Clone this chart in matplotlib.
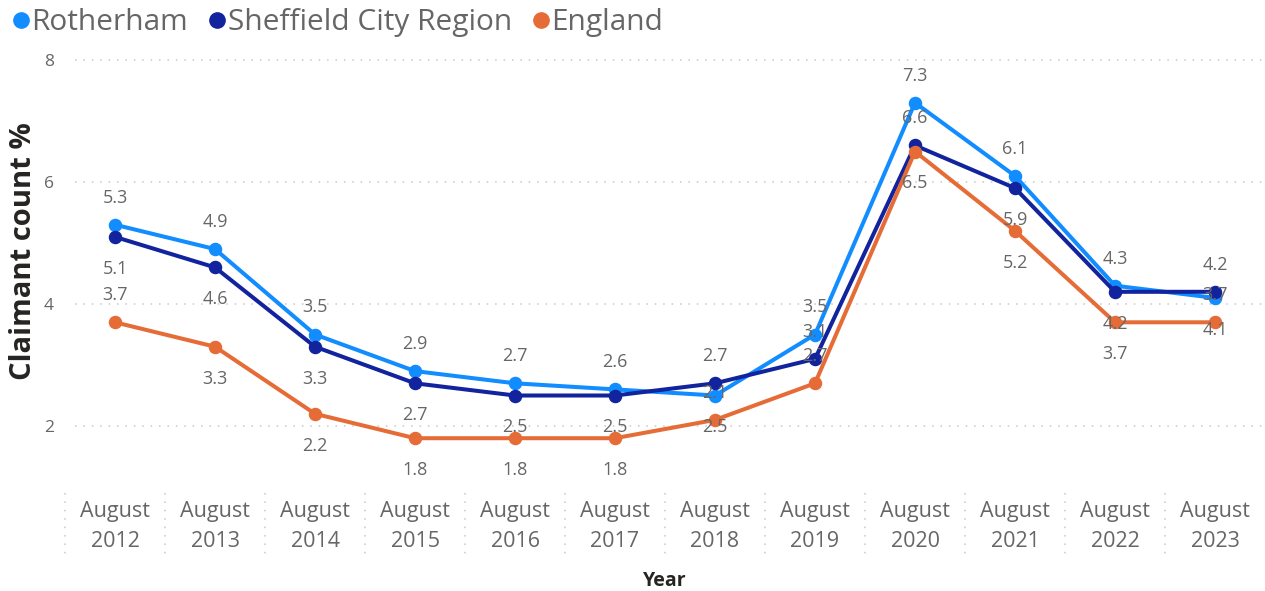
import matplotlib
matplotlib.use("Agg")
import matplotlib.pyplot as plt
from matplotlib.lines import Line2D
from matplotlib.transforms import blended_transform_factory

plt.rcParams["font.family"] = ["Open Sans", "DejaVu Sans"]

# ── Data ──
years = ["August\n2012", "August\n2013", "August\n2014", "August\n2015",
         "August\n2016", "August\n2017", "August\n2018", "August\n2019",
         "August\n2020", "August\n2021", "August\n2022", "August\n2023"]
rotherham = [5.3, 4.9, 3.5, 2.9, 2.7, 2.6, 2.5, 3.5, 7.3, 6.1, 4.3, 4.1]
sheffield = [5.1, 4.6, 3.3, 2.7, 2.5, 2.5, 2.7, 3.1, 6.6, 5.9, 4.2, 4.2]
england = [3.7, 3.3, 2.2, 1.8, 1.8, 1.8, 2.1, 2.7, 6.5, 5.2, 3.7, 3.7]

# label placement per point: a = above, b = below (as in the original)
rot_pos = "aaaaaabaaaab"
shf_pos = "bbbbbbaaabba"
eng_pos = "abbbbbaabbba"

series = [
    ("Rotherham", rotherham, rot_pos, "#118DFF"),
    ("Sheffield City Region", sheffield, shf_pos, "#12239E"),
    ("England", england, eng_pos, "#E66C37"),
]

GREY = "#666666"
W, H = 1265, 591
fig = plt.figure(figsize=(W / 100, H / 100), dpi=100)
fig.patch.set_facecolor("white")
ax = fig.add_axes([65 / W, (H - 487) / H, 1200 / W, 437 / H])

x = list(range(len(years)))
for name, vals, pos, color in series:
    ax.plot(x, vals, color=color, lw=2.9, marker="o", ms=8.7,
            solid_capstyle="round", clip_on=False)

for name, vals, pos, color in series:
    for xi, v, p in zip(x, vals, pos):
        dy = 19.5 if p == "a" else -23
        ax.annotate(f"{v:.1f}", (xi, v), xytext=(0, dy), textcoords="offset points",
                    ha="center", va="center", fontsize=13, color=GREY, zorder=10)

ax.set_xlim(-0.5, len(years) - 0.5)
ax.set_ylim(1.0, 8.164)
ax.set_yticks([2, 4, 6, 8])
ax.set_xticks(x)
ax.set_xticklabels(years, fontsize=15.5, color=GREY, linespacing=1.55)
ax.tick_params(axis="x", length=0, pad=10)
ax.tick_params(axis="y", length=0, pad=8, labelsize=12.5, labelcolor=GREY)
for s in ax.spines.values():
    s.set_visible(False)

for yv in [2, 4, 6, 8]:
    ax.axhline(yv, xmin=0.008, xmax=1, color="#c8c8c8", lw=1.1,
               ls=(0, (1, 4.5)), zorder=0)

# category separators below the plot
tr = blended_transform_factory(ax.transData, ax.transAxes)
for b in range(len(years)):
    ax.plot([b - 0.5, b - 0.5], [-0.014, -0.165], transform=tr, color="#c8c8c8",
            lw=1.1, ls=(0, (1, 4.5)), clip_on=False)

ax.set_ylabel("Claimant count %", fontsize=21, fontweight="bold", color="#252423")
ax.yaxis.set_label_coords(-27 / 1200, 0.54)
ax.set_xlabel("Year", fontsize=14, fontweight="bold", color="#252423", labelpad=14)

handles = [Line2D([], [], ls="none", marker="o", ms=11, color=c) for _, _, _, c in series]
fig.legend(handles, [s[0] for s in series], loc="upper left",
           bbox_to_anchor=(-0.0105, 1.016), ncol=3, frameon=False, fontsize=21.5,
           labelcolor=GREY, handletextpad=-0.2, columnspacing=0.42,
           borderaxespad=0.2, handlelength=1.1)

fig.savefig("out.png", dpi=100, facecolor="white")
